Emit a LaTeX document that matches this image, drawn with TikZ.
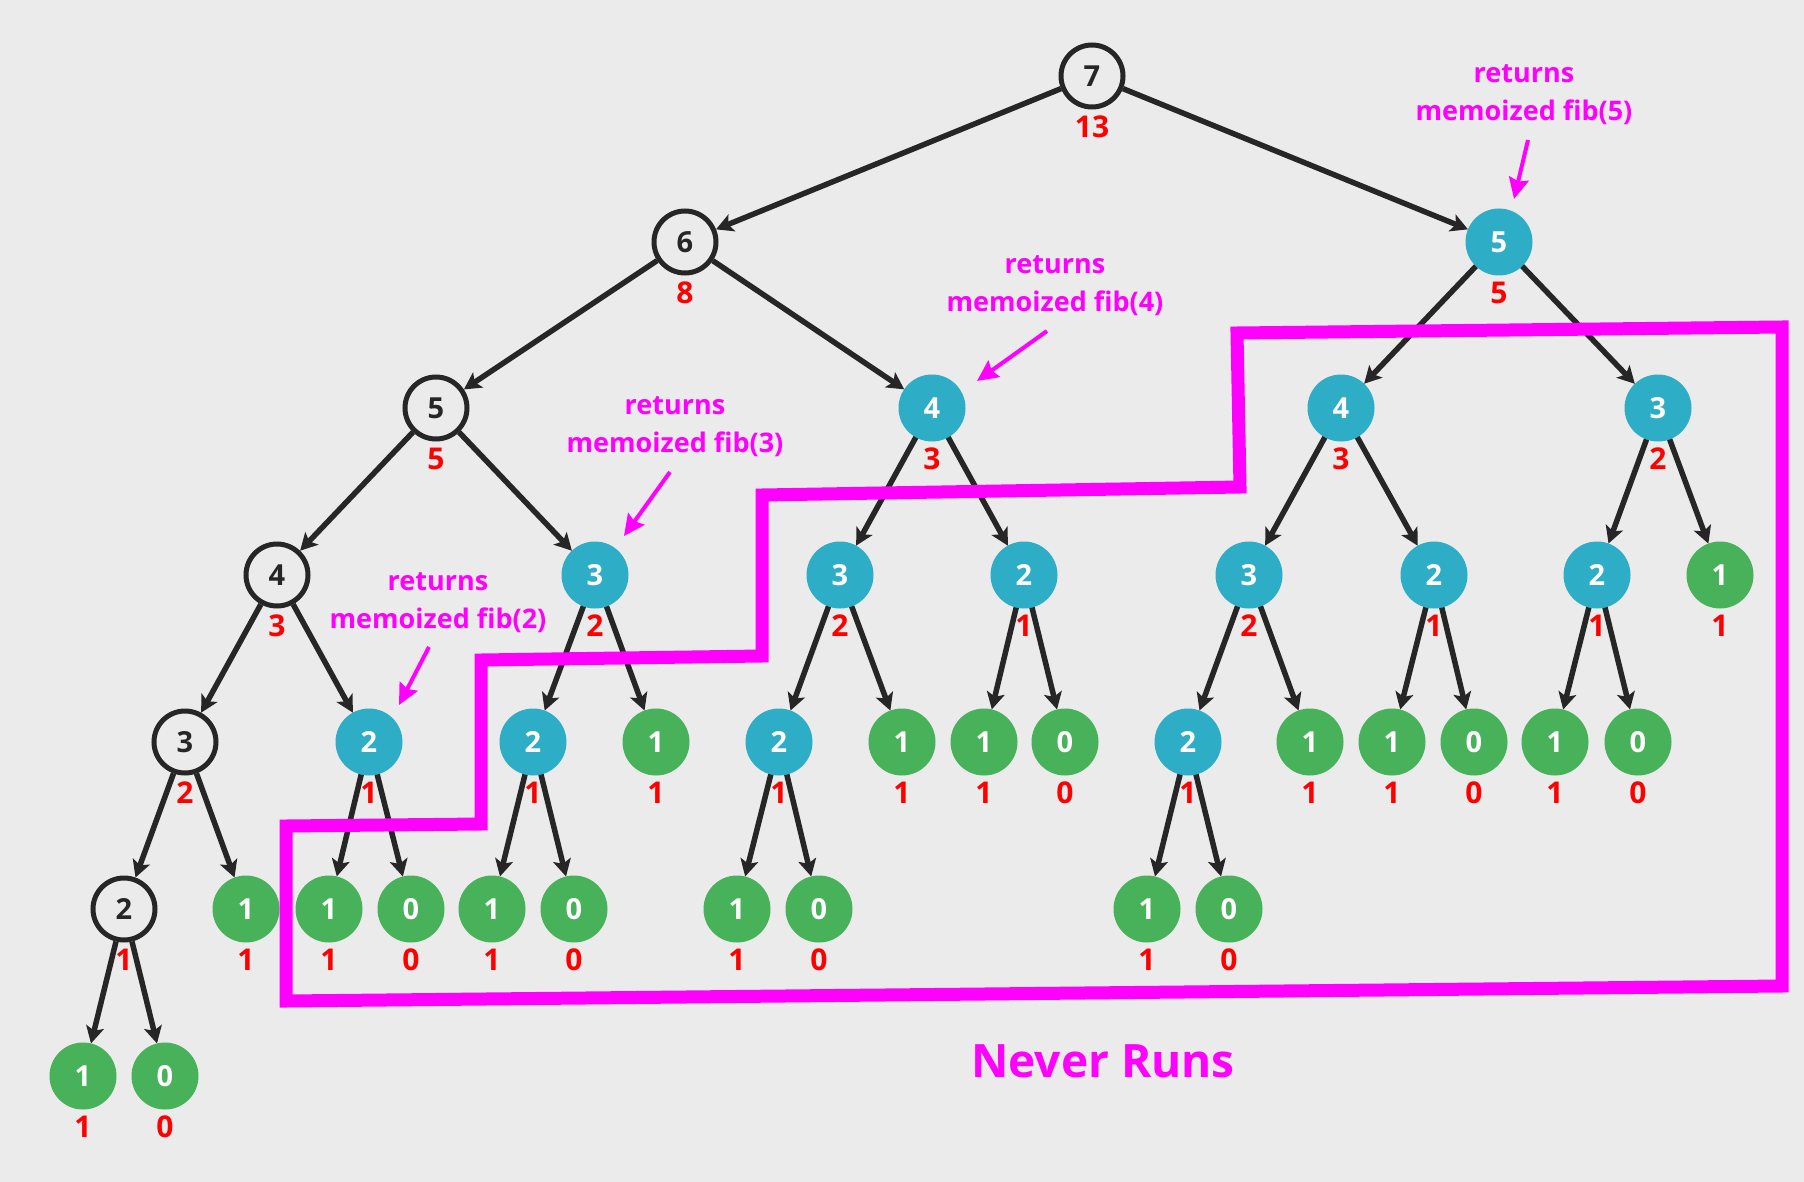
\documentclass[tikz,border=0pt]{standalone}
\usepackage{fontspec}
\setmainfont{Open Sans}
\usetikzlibrary{arrows.meta}
\definecolor{bg}{HTML}{EBEBEB}
\definecolor{ink}{HTML}{262626}
\definecolor{memoblue}{HTML}{2EADC6}
\definecolor{basegreen}{HTML}{47B259}
\definecolor{pink}{HTML}{FF00FF}
\definecolor{fibred}{HTML}{FF0000}
\tikzstyle{plain} = [
  circle,
  minimum size=62pt,
  inner sep=0pt,
  outer sep=2.5pt,
  draw=ink,
  line width=5pt,
  fill=bg,
  text=ink,
  font=\fontsize{29}{29}\selectfont\bfseries
]
\tikzstyle{memo} = [
  circle,
  minimum size=67pt,
  inner sep=0pt,
  outer sep=0pt,
  fill=memoblue,
  text=white,
  font=\fontsize{29}{29}\selectfont\bfseries
]
\tikzstyle{base} = [
  circle,
  minimum size=67pt,
  inner sep=0pt,
  outer sep=0pt,
  fill=basegreen,
  text=white,
  font=\fontsize{29}{29}\selectfont\bfseries
]
\tikzstyle{arrow} = [line width=5.5pt, draw=ink, -{Stealth[length=17pt, width=18pt, inset=4pt]}]
\tikzstyle{note} = [text=pink, align=center, font=\fontsize{27}{38}\selectfont\bfseries]
\tikzstyle{pointer} = [line width=4pt, draw=pink, -{Stealth[length=21pt, width=20pt, inset=3pt]}]
\tikzstyle{skipped} = [line width=13pt, draw=pink, line join=miter]

\begin{document}
\begin{tikzpicture}[x=1pt, y=-1pt, label distance=6pt,
    every label/.style={text=fibred, draw=none, fill=none, inner sep=0pt, font=\fontsize{30}{30}\selectfont\bfseries}]
    \fill [bg] (0,0) rectangle (1804,1182);
    \useasboundingbox (0,0) rectangle (1804,1182);

    % level 0 and 1
    \node (l0-a) [plain, label=below:13] at (1092,76) {7};
    \node (l1-a) [plain, label=below:8] at (685,242) {6};
    \node (l1-b) [memo, label=below:5] at (1499,242) {5};
    % level 2
    \node (l2-a) [plain, label=below:5] at (436,408) {5};
    \node (l2-b) [memo, label=below:3] at (932,408) {4};
    \node (l2-c) [memo, label=below:3] at (1341,408) {4};
    \node (l2-d) [memo, label=below:2] at (1658,408) {3};
    % level 3
    \node (l3-a) [plain, label=below:3] at (277,575) {4};
    \node (l3-b) [memo, label=below:2] at (595,575) {3};
    \node (l3-c) [memo, label=below:2] at (840,575) {3};
    \node (l3-d) [memo, label=below:1] at (1024,575) {2};
    \node (l3-e) [memo, label=below:2] at (1249,575) {3};
    \node (l3-f) [memo, label=below:1] at (1434,575) {2};
    \node (l3-g) [memo, label=below:1] at (1597,575) {2};
    \node (l3-h) [base, label=below:1] at (1720,575) {1};
    % level 4
    \node (l4-a) [plain, label=below:2] at (185,742) {3};
    \node (l4-b) [memo, label=below:1] at (369,742) {2};
    \node (l4-c) [memo, label=below:1] at (533,742) {2};
    \node (l4-d) [base, label=below:1] at (656,742) {1};
    \node (l4-e) [memo, label=below:1] at (779,742) {2};
    \node (l4-f) [base, label=below:1] at (902,742) {1};
    \node (l4-g) [base, label=below:1] at (984,742) {1};
    \node (l4-h) [base, label=below:0] at (1065,742) {0};
    \node (l4-i) [memo, label=below:1] at (1188,742) {2};
    \node (l4-j) [base, label=below:1] at (1310,742) {1};
    \node (l4-k) [base, label=below:1] at (1392,742) {1};
    \node (l4-l) [base, label=below:0] at (1474,742) {0};
    \node (l4-m) [base, label=below:1] at (1555,742) {1};
    \node (l4-n) [base, label=below:0] at (1638,742) {0};
    % level 5
    \node (l5-a) [plain, label=below:1] at (124,909) {2};
    \node (l5-b) [base, label=below:1] at (246,909) {1};
    \node (l5-c) [base, label=below:1] at (329,909) {1};
    \node (l5-d) [base, label=below:0] at (411,909) {0};
    \node (l5-e) [base, label=below:1] at (492,909) {1};
    \node (l5-f) [base, label=below:0] at (574,909) {0};
    \node (l5-g) [base, label=below:1] at (737,909) {1};
    \node (l5-h) [base, label=below:0] at (819,909) {0};
    \node (l5-i) [base, label=below:1] at (1147,909) {1};
    \node (l5-j) [base, label=below:0] at (1229,909) {0};
    % level 6
    \node (l6-a) [base, label=below:1] at (83,1076) {1};
    \node (l6-b) [base, label=below:0] at (165,1076) {0};

    \draw [arrow] (l0-a) -- (l1-a);
    \draw [arrow] (l0-a) -- (l1-b);
    \draw [arrow] (l1-a) -- (l2-a);
    \draw [arrow] (l1-a) -- (l2-b);
    \draw [arrow] (l1-b) -- (l2-c);
    \draw [arrow] (l1-b) -- (l2-d);
    \draw [arrow] (l2-a) -- (l3-a);
    \draw [arrow] (l2-a) -- (l3-b);
    \draw [arrow] (l2-b) -- (l3-c);
    \draw [arrow] (l2-b) -- (l3-d);
    \draw [arrow] (l2-c) -- (l3-e);
    \draw [arrow] (l2-c) -- (l3-f);
    \draw [arrow] (l2-d) -- (l3-g);
    \draw [arrow] (l2-d) -- (l3-h);
    \draw [arrow] (l3-a) -- (l4-a);
    \draw [arrow] (l3-a) -- (l4-b);
    \draw [arrow] (l3-b) -- (l4-c);
    \draw [arrow] (l3-b) -- (l4-d);
    \draw [arrow] (l3-c) -- (l4-e);
    \draw [arrow] (l3-c) -- (l4-f);
    \draw [arrow] (l3-d) -- (l4-g);
    \draw [arrow] (l3-d) -- (l4-h);
    \draw [arrow] (l3-e) -- (l4-i);
    \draw [arrow] (l3-e) -- (l4-j);
    \draw [arrow] (l3-f) -- (l4-k);
    \draw [arrow] (l3-f) -- (l4-l);
    \draw [arrow] (l3-g) -- (l4-m);
    \draw [arrow] (l3-g) -- (l4-n);
    \draw [arrow] (l4-a) -- (l5-a);
    \draw [arrow] (l4-a) -- (l5-b);
    \draw [arrow] (l4-b) -- (l5-c);
    \draw [arrow] (l4-b) -- (l5-d);
    \draw [arrow] (l4-c) -- (l5-e);
    \draw [arrow] (l4-c) -- (l5-f);
    \draw [arrow] (l4-e) -- (l5-g);
    \draw [arrow] (l4-e) -- (l5-h);
    \draw [arrow] (l4-i) -- (l5-i);
    \draw [arrow] (l4-i) -- (l5-j);
    \draw [arrow] (l5-a) -- (l6-a);
    \draw [arrow] (l5-a) -- (l6-b);

    % the calls that are never made
    \draw [skipped] (1237,333) -- (1782,327) -- (1782,986) -- (286,1001) -- (286,826)
      -- (481,824) -- (481,660) -- (762,656) -- (762,495) -- (1240,487) -- cycle;
    \node (never-runs) [text=pink, font=\fontsize{46}{46}\selectfont\bfseries] at (1103,1061) {Never Runs};

    % memo notes
    \node (memo5) [note] at (1524,95) {returns\\memoized fib(5)};
    \node (memo4) [note] at (1055,286) {returns\\memoized fib(4)};
    \node (memo3) [note] at (675,427) {returns\\memoized fib(3)};
    \node (memo2) [note] at (438,603) {returns\\memoized fib(2)};
    \coordinate (memo5-from) at (1528,140);
    \coordinate (memo5-to) at (1514,199);
    \coordinate (memo4-from) at (1047,331);
    \coordinate (memo4-to) at (977,381);
    \coordinate (memo3-from) at (670,472);
    \coordinate (memo3-to) at (624,536);
    \coordinate (memo2-from) at (429,647);
    \coordinate (memo2-to) at (399,705);
    \draw [pointer] (memo5-from) -- (memo5-to);
    \draw [pointer] (memo4-from) -- (memo4-to);
    \draw [pointer] (memo3-from) -- (memo3-to);
    \draw [pointer] (memo2-from) -- (memo2-to);
\end{tikzpicture}
\end{document}
